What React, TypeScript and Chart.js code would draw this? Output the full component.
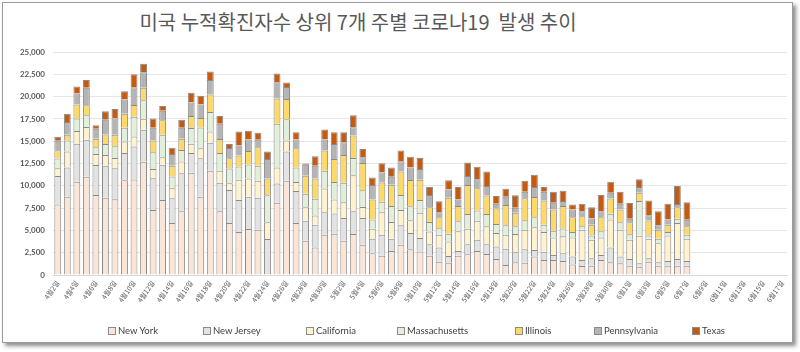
import React, { useEffect, useRef } from "react";
import { Chart, registerables } from "chart.js";

Chart.register(...registerables);

const TITLE = "미국 누적확진자수 상위 7개 주별 코로나19  발생 추이";

const dates: string[] = [
  "4월2일", "4월3일", "4월4일", "4월5일", "4월6일", "4월7일", "4월8일", "4월9일", "4월10일", "4월11일",
  "4월12일", "4월13일", "4월14일", "4월15일", "4월16일", "4월17일", "4월18일", "4월19일", "4월20일", "4월21일",
  "4월22일", "4월23일", "4월24일", "4월25일", "4월26일", "4월27일", "4월28일", "4월29일", "4월30일",
  "5월1일", "5월2일", "5월3일", "5월4일", "5월5일", "5월6일", "5월7일", "5월8일", "5월9일", "5월10일",
  "5월11일", "5월12일", "5월13일", "5월14일", "5월15일", "5월16일", "5월17일", "5월18일", "5월19일", "5월20일",
  "5월21일", "5월22일", "5월23일", "5월24일", "5월25일", "5월26일", "5월27일", "5월28일", "5월29일", "5월30일", "5월31일",
  "6월1일", "6월2일", "6월3일", "6월4일", "6월5일", "6월6일", "6월7일", "6월8일", "6월9일", "6월10일",
  "6월11일", "6월12일", "6월13일", "6월14일", "6월15일", "6월16일", "6월17일",
];

const newYork = [
  7900, 8790, 10450, 11010, 8980, 8670, 8490, 10630, 10710, 12710,
  7280, 8410, 5850, 7160, 11460, 8780, 11690, 7160, 5840, 4830,
  5160, 5090, 0, 8100, 10560, 5840, 3840, 3090, 4520, 4640,
  3840, 4600, 3390, 2450, 2180, 2710, 3390, 2900, 2640, 2180,
  1500, 1390, 2180, 2330, 2710, 2370, 1810, 1130, 1430, 1390,
  2070, 1690, 1690, 1580, 1200, 1010, 1050, 1690, 1430, 1320,
  1050, 940, 1500, 1050, 1050, 1050, 1050,
];
const newJersey = [
  3200, 3280, 4260, 4150, 3360, 3580, 3470, 3050, 3700, 3580,
  3580, 3960, 2750, 4260, 2230, 4300, 3130, 3200, 3700, 3580,
  3620, 3580, 4030, 2150, 3280, 3580, 2260, 2560, 2530, 2260,
  2560, 2560, 3020, 1620, 2340, 1360, 2190, 1810, 1510, 1280,
  1580, 750, 530, 1130, 1240, 1090, 1390, 1810, 1130, 1510,
  750, 870, 570, 870, 870, 680, 830, 570, 1660, 750,
  750, 380, 380, 380, 530, 750, 530,
];
const california = [
  870, 1770, 1430, 1430, 1240, 1210, 1170, 1280, 1130, 1240,
  1020, 830, 1130, 1320, 1020, 1130, 1280, 1320, 750, 2260,
  2040, 1890, 1890, 1810, 1240, 1020, 1510, 1020, 2640, 1580,
  1770, 4030, 1210, 1130, 2530, 1890, 1700, 1430, 2830, 1430,
  1430, 1620, 2190, 1730, 2150, 2000, 1510, 1580, 2040, 2190,
  2530, 2260, 1960, 1890, 2150, 3390, 2070, 1960, 3130, 3020,
  2150, 3090, 2190, 2150, 2860, 4030, 2490,
];
const massachusetts = [
  1090, 1240, 1400, 1320, 750, 1240, 1320, 1550, 2190, 2070,
  1890, 2530, 1320, 1280, 1770, 2340, 2190, 2000, 1660, 1510,
  1580, 1700, 3020, 4900, 2380, 1620, 1510, 1890, 2000, 1960,
  2190, 1920, 1890, 1020, 1170, 1770, 1700, 1580, 1430, 1060,
  750, 870, 1130, 1660, 1130, 1390, 1020, 1060, 870, 1060,
  1130, 830, 750, 870, 600, 380, 490, 680, 640, 830,
  640, 3880, 380, 490, 380, 490, 450,
];
const illinois = [
  940, 640, 1580, 1130, 940, 1060, 1280, 1580, 1320, 1400,
  1320, 1620, 1210, 1250, 1360, 1060, 1960, 1580, 1130, 1210,
  1510, 2070, 1890, 2830, 2260, 2150, 2000, 2260, 2260, 2560,
  3090, 2530, 3050, 2260, 2150, 2380, 2640, 2940, 2260, 1660,
  1210, 4030, 1700, 3240, 2490, 2070, 1740, 2260, 1510, 2450,
  2260, 2720, 2380, 2530, 1660, 1130, 1210, 1580, 1730, 1430,
  1320, 940, 1660, 1020, 830, 1280, 940,
];
const pennsylvania = [
  1060, 1430, 1240, 1960, 1130, 1660, 1810, 1580, 2000, 1730,
  1430, 1060, 1320, 1240, 1510, 1510, 1620, 1700, 1170, 1130,
  1280, 830, 2190, 1810, 1360, 980, 1240, 1430, 1240, 1700,
  1430, 940, 640, 1620, 1130, 900, 1130, 1400, 1210, 1360,
  570, 940, 750, 1020, 1020, 1060, 530, 940, 570, 750,
  1130, 980, 750, 570, 870, 570, 680, 680, 640, 640,
  410, 640, 600, 490, 570, 380, 750,
];
const texas = [
  450, 940, 760, 870, 380, 940, 1060, 940, 1470, 940,
  1020, 530, 680, 910, 1090, 980, 940, 870, 450, 1580,
  980, 790, 830, 980, 490, 830, 150, 1060, 1130, 1320,
  1130, 1320, 940, 830, 1020, 1060, 1210, 1210, 1240, 900,
  1240, 1020, 1390, 1510, 1390, 1620, 870, 900, 1390, 1210,
  1360, 530, 1240, 1130, 570, 830, 1280, 1810, 1240, 1360,
  1770, 870, 1660, 1580, 1770, 2000, 1960,
];

const seriesNames = ["New York", "New Jersey", "California", "Massachusetts", "Illinois", "Pennsylvania", "Texas"];
const seriesData = [newYork, newJersey, california, massachusetts, illinois, pennsylvania, texas];
const seriesColors = ["#FBE5D6", "#E3E3E3", "#FFF2CC", "#E2F0D9", "#FFD966", "#B4B4B4", "#C55A11"];
const legendX = [108, 203, 306, 397, 515, 594, 692];

const yTicksMax = 25000;
const yTicksStep = 2500;

const FONT = "Lato, 'Noto Sans CJK KR', sans-serif";

export default function App() {
  const ref = useRef<HTMLCanvasElement | null>(null);

  useEffect(() => {
    if (!ref.current) return;
    const chart = new Chart(ref.current, {
      type: "bar",
      data: {
        labels: dates,
        datasets: seriesNames.map((name, i) => ({
          label: name,
          data: seriesData[i],
          backgroundColor: seriesColors[i],
          borderColor: "#8a8a8a",
          borderWidth: 1,
          categoryPercentage: 1,
          barPercentage: 0.72,
        })),
      },
      options: {
        animation: false,
        responsive: false,
        maintainAspectRatio: false,
        layout: { padding: { left: 3, right: 13, top: 14, bottom: 30 } },
        plugins: {
          legend: { display: false },
          title: { display: false },
          tooltip: { enabled: false },
        },
        scales: {
          x: {
            stacked: true,
            grid: { display: false, drawTicks: false },
            border: { color: "#d9d9d9" },
            ticks: {
              autoSkip: false,
              minRotation: 55,
              maxRotation: 55,
              padding: 4,
              color: "#595959",
              font: { size: 7, family: "'Noto Sans CJK KR', sans-serif" },
              callback: (_v: any, i: number) => (i % 2 === 0 ? dates[i] : ""),
            },
          },
          y: {
            stacked: true,
            min: 0,
            max: yTicksMax,
            grid: { color: "#e6e6e6", drawTicks: false },
            border: { display: false },
            ticks: {
              stepSize: yTicksStep,
              padding: 8,
              color: "#595959",
              font: { size: 8, family: FONT, weight: "bold" },
              callback: (v: any) => Number(v).toLocaleString("en-US"),
            },
            afterFit: (s: any) => {
              s.width = 50;
            },
          },
        },
      },
    } as any);
    return () => chart.destroy();
  }, []);

  return (
    <div style={{ position: "absolute", left: 0, top: 0, width: 800, height: 352, background: "#fff", overflow: "hidden" }}>
      <div
        style={{
          position: "absolute",
          left: 2,
          top: 2,
          width: 789,
          height: 339,
          border: "1px solid #9a9a9a",
          boxShadow: "3px 3px 4px rgba(0,0,0,0.45)",
          background: "#fff",
        }}
      />
      <div
        style={{
          position: "absolute",
          left: 0,
          width: 716,
          top: 7,
          textAlign: "center",
          fontFamily: "'Noto Sans CJK KR', sans-serif",
          fontSize: 20,
          fontWeight: 400,
          color: "#595959",
          whiteSpace: "pre",
        }}
      >
        {TITLE}
      </div>
      <canvas ref={ref} width={800} height={300} style={{ position: "absolute", left: 0, top: 38, width: 800, height: 300 }} />
      {seriesNames.map((name, i) => (
        <div
          key={name}
          style={{
            position: "absolute",
            left: legendX[i],
            top: 325,
            display: "flex",
            alignItems: "center",
            fontFamily: FONT,
            fontSize: 9.5,
            color: "#404040",
            whiteSpace: "nowrap",
          }}
        >
          <span
            style={{
              display: "inline-block",
              width: 6,
              height: 6,
              background: seriesColors[i],
              border: "1px solid #8a8a8a",
              marginRight: 2,
            }}
          />
          {name}
        </div>
      ))}
    </div>
  );
}
